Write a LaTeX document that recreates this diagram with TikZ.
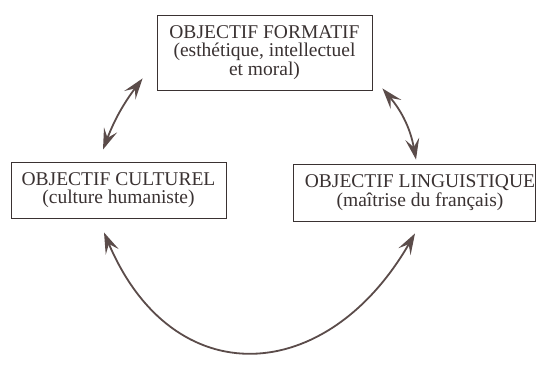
\documentclass[tikz,border=0pt]{standalone}
\usepackage{fontspec}
\setmainfont{Liberation Serif}
\usetikzlibrary{arrows.meta}
\definecolor{ink}{HTML}{3A3232}
\definecolor{arrowc}{HTML}{5B4C4A}
\tikzset{barb/.tip={Stealth[length=21pt,width=14pt,inset=8.5pt]}}
\begin{document}
\begin{tikzpicture}[x=1pt,y=1pt,
  objbox/.style={draw=ink, line width=0.9pt, text=ink, inner sep=0pt, align=center,
    font=\fontsize{19.5}{18.3}\selectfont},
  link/.style={draw=arrowc, line width=1.8pt, {barb}-{barb}}
]
\useasboundingbox (0,0) rectangle (536,374);
\fill[white] (0,0) rectangle (536,374);
\node[objbox, minimum width=215pt, minimum height=75pt] (form) at (264.5,321.5)
  {OBJECTIF FORMATIF\\(esthétique, intellectuel\\et moral)};
\node[objbox, minimum width=215pt, minimum height=56pt] (cult) at (118.5,184)
  {OBJECTIF CULTUREL\\(culture humaniste)};
\node[objbox, minimum width=240pt, minimum height=57pt] (ling) at (414.5,181.5)
  {\hspace*{11pt}OBJECTIF LINGUISTIQUE\\\hspace*{11pt}(maîtrise du français)};
\draw[link] ([shift={(-14,12)}]form.south west) to[bend right=8] ([shift={(-15.5,12)}]cult.north);
\draw[link] ([shift={(10,2)}]form.south east) to[bend left=15] ([shift={(1.5,4)}]ling.north);
\draw[link] ([shift={(-14.5,-14)}]cult.south) to[out=-67,in=-120,looseness=1.45] ([shift={(0.5,-12)}]ling.south);
\end{tikzpicture}
\end{document}
